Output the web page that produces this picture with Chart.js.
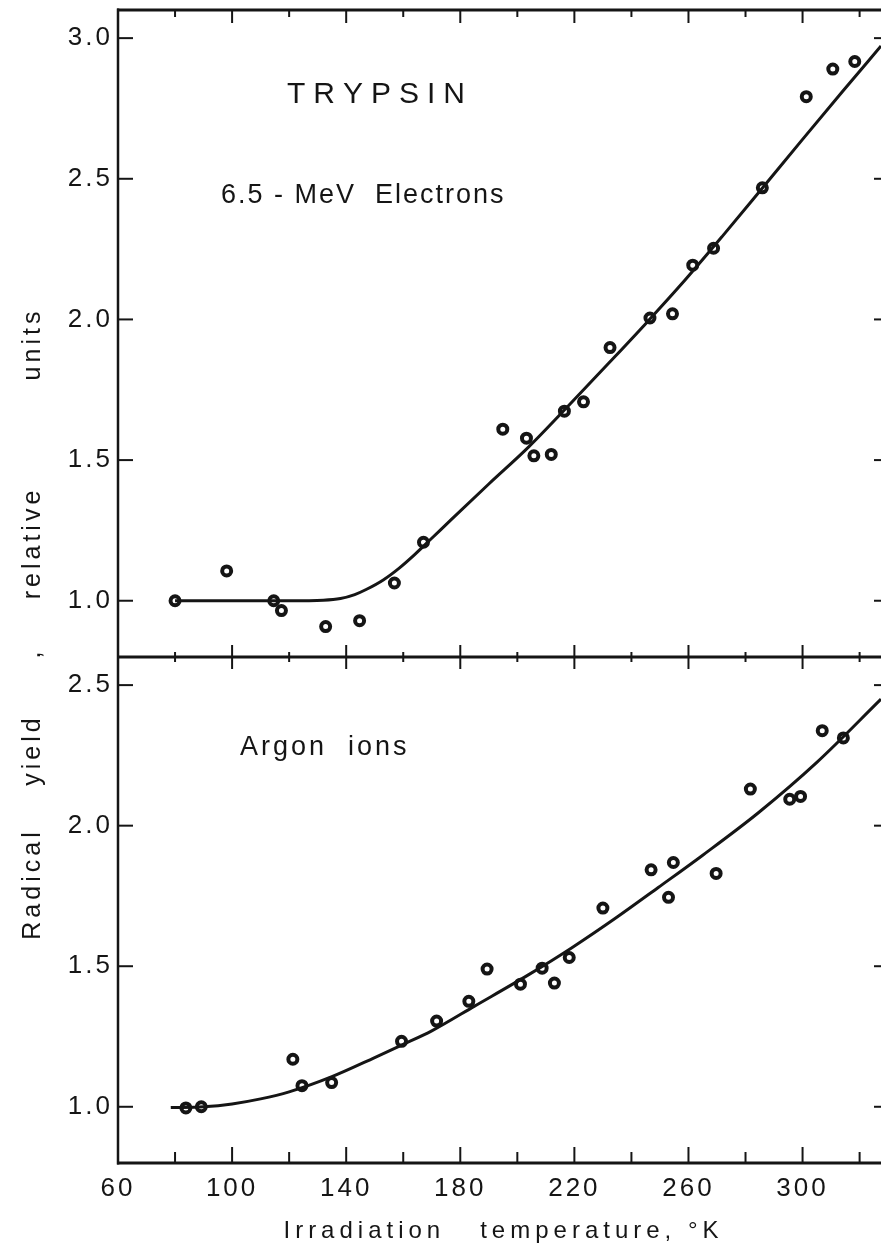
<!DOCTYPE html>
<html>
<head>
<meta charset="utf-8">
<script src="https://cdn.jsdelivr.net/npm/chart.js@4.4.1/dist/chart.umd.min.js"></script>
<style>
html,body{margin:0;padding:0;background:#fff;}
canvas{display:block;}
</style>
</head>
<body>
<canvas id="c" width="881" height="1250"></canvas>
<script>
// ---- data ----
const tempTickLabels = [60, 100, 140, 180, 220, 260, 300];
const tempTickMarks = [80, 100, 120, 140, 160, 180, 200, 220, 240, 260, 280, 300, 320];
const topYTicks = [1.0, 1.5, 2.0, 2.5, 3.0];
const botYTicks = [1.0, 1.5, 2.0, 2.5];

// 6.5-MeV electrons (top panel)
const elecTemp  = [80, 98.1, 114.6, 117.3, 132.8, 144.7, 156.9, 167.1, 194.9, 203.2, 205.8, 211.9, 216.5, 223.2, 232.5, 246.5, 254.4, 261.5, 268.8, 285.9, 301.3, 310.6, 318.3];
const elecYield = [1.0, 1.106, 1.0, 0.965, 0.908, 0.929, 1.063, 1.208, 1.610, 1.578, 1.515, 1.520, 1.674, 1.707, 1.900, 2.005, 2.020, 2.193, 2.253, 2.468, 2.792, 2.890, 2.917];
const elecCurveTemp  = [80, 100, 120, 132, 138, 143, 147, 153, 158.6, 164, 170, 177, 190, 204, 218, 232, 245, 258.8, 272, 286, 300, 314, 327.5];
const elecCurveYield = [1.0, 1.0, 1.0, 1.002, 1.008, 1.022, 1.04, 1.074, 1.116, 1.164, 1.222, 1.29, 1.415, 1.547, 1.694, 1.844, 1.985, 2.14, 2.297, 2.468, 2.64, 2.81, 2.972];

// Argon ions (bottom panel)
const argTemp  = [83.8, 89.2, 121.3, 124.5, 134.9, 159.4, 171.7, 183.0, 189.4, 201.1, 208.7, 213.0, 218.2, 230.0, 246.9, 253.0, 254.7, 269.7, 281.7, 295.5, 299.3, 306.9, 314.3];
const argYield = [0.996, 1.0, 1.169, 1.075, 1.086, 1.233, 1.305, 1.375, 1.490, 1.436, 1.493, 1.440, 1.531, 1.707, 1.843, 1.745, 1.869, 1.830, 2.130, 2.094, 2.104, 2.338, 2.312];
const argCurveTemp  = [78.5, 90, 100, 110, 120, 135, 150, 160, 170, 185, 204, 219, 235, 249.4, 265, 284.4, 305, 327.5];
const argCurveYield = [0.997, 1.0, 1.01, 1.028, 1.053, 1.107, 1.175, 1.222, 1.27, 1.358, 1.47, 1.565, 1.675, 1.78, 1.895, 2.045, 2.225, 2.45];

const toXY = (xs, ys) => xs.map((x, i) => ({x: x, y: ys[i]}));

const INK = '#151515';
const FONT = "'Liberation Sans', Arial, sans-serif";

function spacedText(ctx, text, x, y, spacing, align) {
  let w = 0;
  const widths = [];
  for (const ch of text) { const cw = ctx.measureText(ch).width; widths.push(cw); w += cw; }
  w += spacing * (widths.length - 1);
  let cx = align === 'center' ? x - w / 2 : (align === 'right' ? x - w : x);
  let i = 0;
  for (const ch of text) { ctx.fillText(ch, cx, y); cx += widths[i++] + spacing; }
}

const spacingPlugin = {
  id: 'spacing',
  beforeLayout(chart) { if ('letterSpacing' in chart.ctx) chart.ctx.letterSpacing = '3px'; },
  beforeDraw(chart) { if ('letterSpacing' in chart.ctx) chart.ctx.letterSpacing = '3px'; }
};

const framePlugin = {
  id: 'frame',
  afterDraw(chart) {
    const ctx = chart.ctx;
    const a = chart.chartArea;
    const xs = chart.scales.x, yt = chart.scales.yTop, yb = chart.scales.yBot;
    const mid = yt.bottom;
    ctx.save();
    if ('letterSpacing' in ctx) ctx.letterSpacing = '0px';
    ctx.strokeStyle = INK;
    ctx.lineCap = 'butt';
    const line = (x1, y1, x2, y2) => { ctx.beginPath(); ctx.moveTo(x1, y1); ctx.lineTo(x2, y2); ctx.stroke(); };
    ctx.lineWidth = 3;
    line(a.left - 1, a.top, a.right, a.top);
    line(a.left - 1, mid, a.right, mid);
    line(a.left - 1, a.bottom, a.right, a.bottom);
    ctx.lineWidth = 2.5;
    line(a.left, a.top - 1.5, a.left, a.bottom + 1.5);
    // x tick marks (inward)
    ctx.lineWidth = 2;
    for (const v of tempTickMarks) {
      const px = xs.getPixelForValue(v);
      const major = tempTickLabels.includes(v);
      line(px, a.bottom, px, a.bottom - (major ? 16 : 11));
      line(px, mid - (major ? 12 : 5), px, mid + (major ? 12 : 5));
      line(px, a.top, px, a.top + (major ? 13 : 7));
    }
    // y tick marks
    for (const v of topYTicks) {
      const py = yt.getPixelForValue(v);
      line(a.left, py, a.left + 15, py);
      line(a.right - 7, py, a.right, py);
    }
    for (const v of botYTicks) {
      const py = yb.getPixelForValue(v);
      line(a.left, py, a.left + 15, py);
      line(a.right - 7, py, a.right, py);
    }
    // texts
    ctx.fillStyle = INK;
    ctx.textBaseline = 'alphabetic';
    ctx.font = "30px " + FONT;
    spacedText(ctx, 'TRYPSIN', 287, 103, 8, 'left');
    ctx.font = "27px " + FONT;
    spacedText(ctx, '6.5 - MeV  Electrons', 221, 203, 2, 'left');
    spacedText(ctx, 'Argon  ions', 240, 755, 3, 'left');
    ctx.font = "24px " + FONT;
    spacedText(ctx, 'Irradiation   temperature, °K', 501, 1238, 5, 'center');
    // rotated y-axis title, word by word (centres along the axis)
    ctx.save();
    ctx.translate(40, 0);
    ctx.rotate(-Math.PI / 2);
    ctx.font = "25px " + FONT;
    const words = [['Radical', 886], ['yield', 752], [',', 655], ['relative', 545], ['units', 346]];
    for (const [w, c] of words) spacedText(ctx, w, -c, 0, 4, 'center');
    ctx.restore();
    ctx.restore();
  }
};

const pointStyle = {
  showLine: false,
  pointRadius: 4.5,
  pointBorderWidth: 4,
  pointBorderColor: INK,
  pointBackgroundColor: '#ffffff'
};
const curveStyle = {
  showLine: true,
  pointRadius: 0,
  borderColor: INK,
  borderWidth: 3,
  cubicInterpolationMode: 'monotone',
  fill: false
};

const yFit = s => { s.width = 118; s.paddingTop = 0; s.paddingBottom = 0; };

new Chart(document.getElementById('c'), {
  type: 'scatter',
  data: {
    datasets: [
      Object.assign({label: 'Electrons curve', data: toXY(elecCurveTemp, elecCurveYield), yAxisID: 'yTop'}, curveStyle),
      Object.assign({label: '6.5-MeV Electrons', data: toXY(elecTemp, elecYield), yAxisID: 'yTop'}, pointStyle),
      Object.assign({label: 'Argon curve', data: toXY(argCurveTemp, argCurveYield), yAxisID: 'yBot'}, curveStyle),
      Object.assign({label: 'Argon ions', data: toXY(argTemp, argYield), yAxisID: 'yBot'}, pointStyle)
    ]
  },
  options: {
    responsive: false,
    devicePixelRatio: 1,
    animation: false,
    events: [],
    layout: {autoPadding: false, padding: {top: 10, right: 0, bottom: 0, left: 0}},
    plugins: {legend: {display: false}, tooltip: {enabled: false}},
    scales: {
      x: {
        type: 'linear', position: 'bottom', min: 60, max: 327.5,
        afterBuildTicks: s => { s.ticks = tempTickLabels.map(v => ({value: v})); },
        afterFit: s => { s.height = 87; s.paddingRight = 0; },
        grid: {display: false, drawTicks: false},
        border: {display: false},
        ticks: {color: INK, font: {family: FONT, size: 26}, padding: 10, maxRotation: 0, autoSkip: false,
                callback: v => String(v)}
      },
      yBot: {
        type: 'linear', position: 'left', stack: 'panels', stackWeight: 506, min: 0.8, max: 2.6,
        afterBuildTicks: s => { s.ticks = botYTicks.map(v => ({value: v})); },
        afterFit: yFit,
        grid: {display: false, drawTicks: false},
        border: {display: false},
        ticks: {color: INK, font: {family: FONT, size: 26}, padding: 5, callback: v => Number(v).toFixed(1)}
      },
      yTop: {
        type: 'linear', position: 'left', stack: 'panels', stackWeight: 647, min: 0.8, max: 3.1,
        afterBuildTicks: s => { s.ticks = topYTicks.map(v => ({value: v})); },
        afterFit: yFit,
        grid: {display: false, drawTicks: false},
        border: {display: false},
        ticks: {color: INK, font: {family: FONT, size: 26}, padding: 5, callback: v => Number(v).toFixed(1)}
      }
    }
  },
  plugins: [spacingPlugin, framePlugin]
});
</script>
</body>
</html>
